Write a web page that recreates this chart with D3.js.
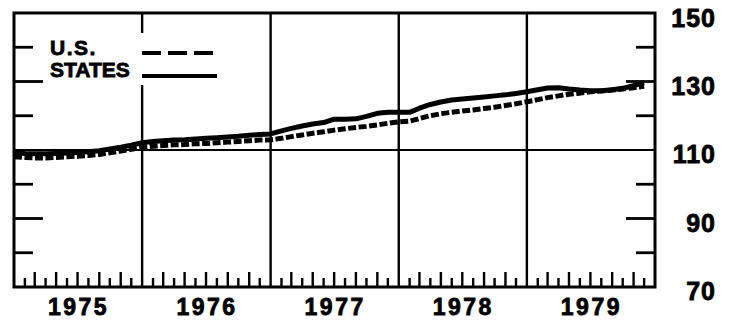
<!DOCTYPE html>
<html>
<head>
<meta charset="utf-8">
<script src="https://cdn.jsdelivr.net/npm/d3@7"></script>
<style>
  body { margin: 0; background: #fff; }
  svg { display: block; }
  text { font-family: "Liberation Sans", Arial, sans-serif; font-weight: bold; fill: #000;
         stroke: #000; stroke-width: 0.8; }
</style>
</head>
<body>
<svg id="chart" width="738" height="322"></svg>
<script>
// Monthly index values, January 1975 through December 1979
const years = [1975, 1976, 1977, 1978, 1979];
const yTickLabels = [70, 90, 110, 130, 150];
const minorY = [80, 100, 120, 140];
const longY = [90, 130];

const usValues = [
  108.0, 107.8, 107.7, 107.7, 107.8, 108.0, 108.2, 108.4, 108.7, 109.2, 109.7, 110.2,
  110.8, 111.1, 111.3, 111.5, 111.6, 111.8, 111.9, 112.1, 112.3, 112.5, 112.7, 112.9,
  113.0, 113.4, 113.9, 114.4, 114.9, 115.3, 115.8, 116.2, 116.6, 116.9, 117.3, 117.8,
  118.2, 118.4, 119.2, 120.0, 120.6, 121.0, 121.4, 121.7, 122.1, 122.5, 123.0, 123.5,
  124.1, 124.7, 125.3, 125.8, 126.3, 126.6, 127.0, 127.2, 127.5, 127.8, 128.2, 128.6
];
const stateValues = [
  109.2, 109.0, 108.9, 108.9, 109.0, 109.1, 109.3, 109.5, 109.8, 110.3, 110.8, 111.4,
  112.1, 112.5, 112.7, 112.9, 113.0, 113.2, 113.4, 113.6, 113.8, 114.0, 114.3, 114.5,
  114.7, 115.6, 116.3, 117.0, 117.6, 118.0, 119.0, 119.0, 119.1, 119.8, 120.7, 121.0,
  121.0, 121.0, 122.2, 123.3, 124.0, 124.6, 124.9, 125.2, 125.5, 125.8, 126.1, 126.5,
  127.0, 127.6, 128.1, 128.2, 127.8, 127.5, 127.3, 127.3, 127.6, 128.0, 128.8, 129.6
];
const months = d3.range(usValues.length).map(i => new Date(1975, i, 1));

const svg = d3.select("#chart");
const plotLeft = 14, plotRight = 655, plotTop = 13, plotBottom = 287;

const x = d3.scaleTime()
  .domain([new Date(1975, 0, 1), new Date(1980, 0, 1)])
  .range([plotLeft, plotRight]);
const y = d3.scaleLinear().domain([70, 150]).range([plotBottom, plotTop]);

// Gridlines: year boundaries and the 110 line
const yearBounds = d3.range(1976, 1980).map(yr => new Date(yr, 0, 1));
svg.append("g").selectAll("line").data(yearBounds).join("line")
  .attr("x1", d => x(d)).attr("x2", d => x(d))
  .attr("y1", plotTop).attr("y2", plotBottom)
  .attr("stroke", "#000").attr("stroke-width", 2.4);
svg.append("line")
  .attr("x1", plotLeft).attr("x2", plotRight)
  .attr("y1", y(110)).attr("y2", y(110))
  .attr("stroke", "#000").attr("stroke-width", 2.2);

// Side ticks, drawn inward from both frame edges
const sideTicks = svg.append("g");
minorY.concat(longY).forEach(v => {
  const len = longY.includes(v) ? 29 : 19;
  sideTicks.append("line")
    .attr("x1", plotLeft).attr("x2", plotLeft + len)
    .attr("y1", y(v)).attr("y2", y(v))
    .attr("stroke", "#000").attr("stroke-width", 2.8);
  sideTicks.append("line")
    .attr("x1", plotRight - len).attr("x2", plotRight)
    .attr("y1", y(v)).attr("y2", y(v))
    .attr("stroke", "#000").attr("stroke-width", 2.8);
});

// Monthly ticks along the bottom, alternating lengths
const monthTicks = d3.range(1, 60).filter(m => m % 12 !== 0).map(m => new Date(1975, m, 1));
svg.append("g").selectAll("line").data(monthTicks).join("line")
  .attr("x1", d => x(d)).attr("x2", d => x(d))
  .attr("y1", plotBottom)
  .attr("y2", d => plotBottom - (d.getMonth() % 2 === 0 ? 15 : 9))
  .attr("stroke", "#000").attr("stroke-width", 2.4);

// Data lines
const line = d3.line()
  .x((d, i) => x(months[i]))
  .y(d => y(d))
  .curve(d3.curveLinear);

svg.append("path").datum(usValues)
  .attr("d", line)
  .attr("fill", "none").attr("stroke", "#000")
  .attr("stroke-width", 5)
  .attr("stroke-dasharray", "8,2.5")
  .attr("stroke-linejoin", "round");

svg.append("path").datum(stateValues)
  .attr("d", line)
  .attr("fill", "none").attr("stroke", "#000")
  .attr("stroke-width", 5)
  .attr("stroke-linejoin", "round");

// Frame
svg.append("rect")
  .attr("x", plotLeft).attr("y", plotTop)
  .attr("width", plotRight - plotLeft).attr("height", plotBottom - plotTop)
  .attr("fill", "none").attr("stroke", "#000").attr("stroke-width", 3);

// Legend
svg.append("rect")
  .attr("x", 46).attr("y", 33).attr("width", 176).attr("height", 52)
  .attr("fill", "#fff");
svg.append("text").attr("x", 50).attr("y", 55)
  .attr("font-size", 21).attr("letter-spacing", 1.5).text("U.S.");
svg.append("text").attr("x", 50).attr("y", 77)
  .attr("font-size", 21).attr("letter-spacing", 0).text("STATES");
svg.append("line")
  .attr("x1", 142).attr("x2", 217).attr("y1", 53).attr("y2", 53)
  .attr("stroke", "#000").attr("stroke-width", 4.2)
  .attr("stroke-dasharray", "19,7");
svg.append("line")
  .attr("x1", 142).attr("x2", 217).attr("y1", 76).attr("y2", 76)
  .attr("stroke", "#000").attr("stroke-width", 4.2);

// Year labels centred under each year
svg.append("g").selectAll("text").data(years).join("text")
  .attr("x", d => x(new Date(d, 6, 1)) + 1)
  .attr("y", 315)
  .attr("text-anchor", "middle")
  .attr("font-size", 23)
  .attr("letter-spacing", 2.5)
  .text(d => d);

// Value labels on the right
svg.append("g").selectAll("text").data(yTickLabels).join("text")
  .attr("x", 716)
  .attr("y", d => Math.max(y(d) + 13, 27))
  .attr("text-anchor", "end")
  .attr("font-size", 25)
  .attr("letter-spacing", 1)
  .text(d => d);
</script>
</body>
</html>
